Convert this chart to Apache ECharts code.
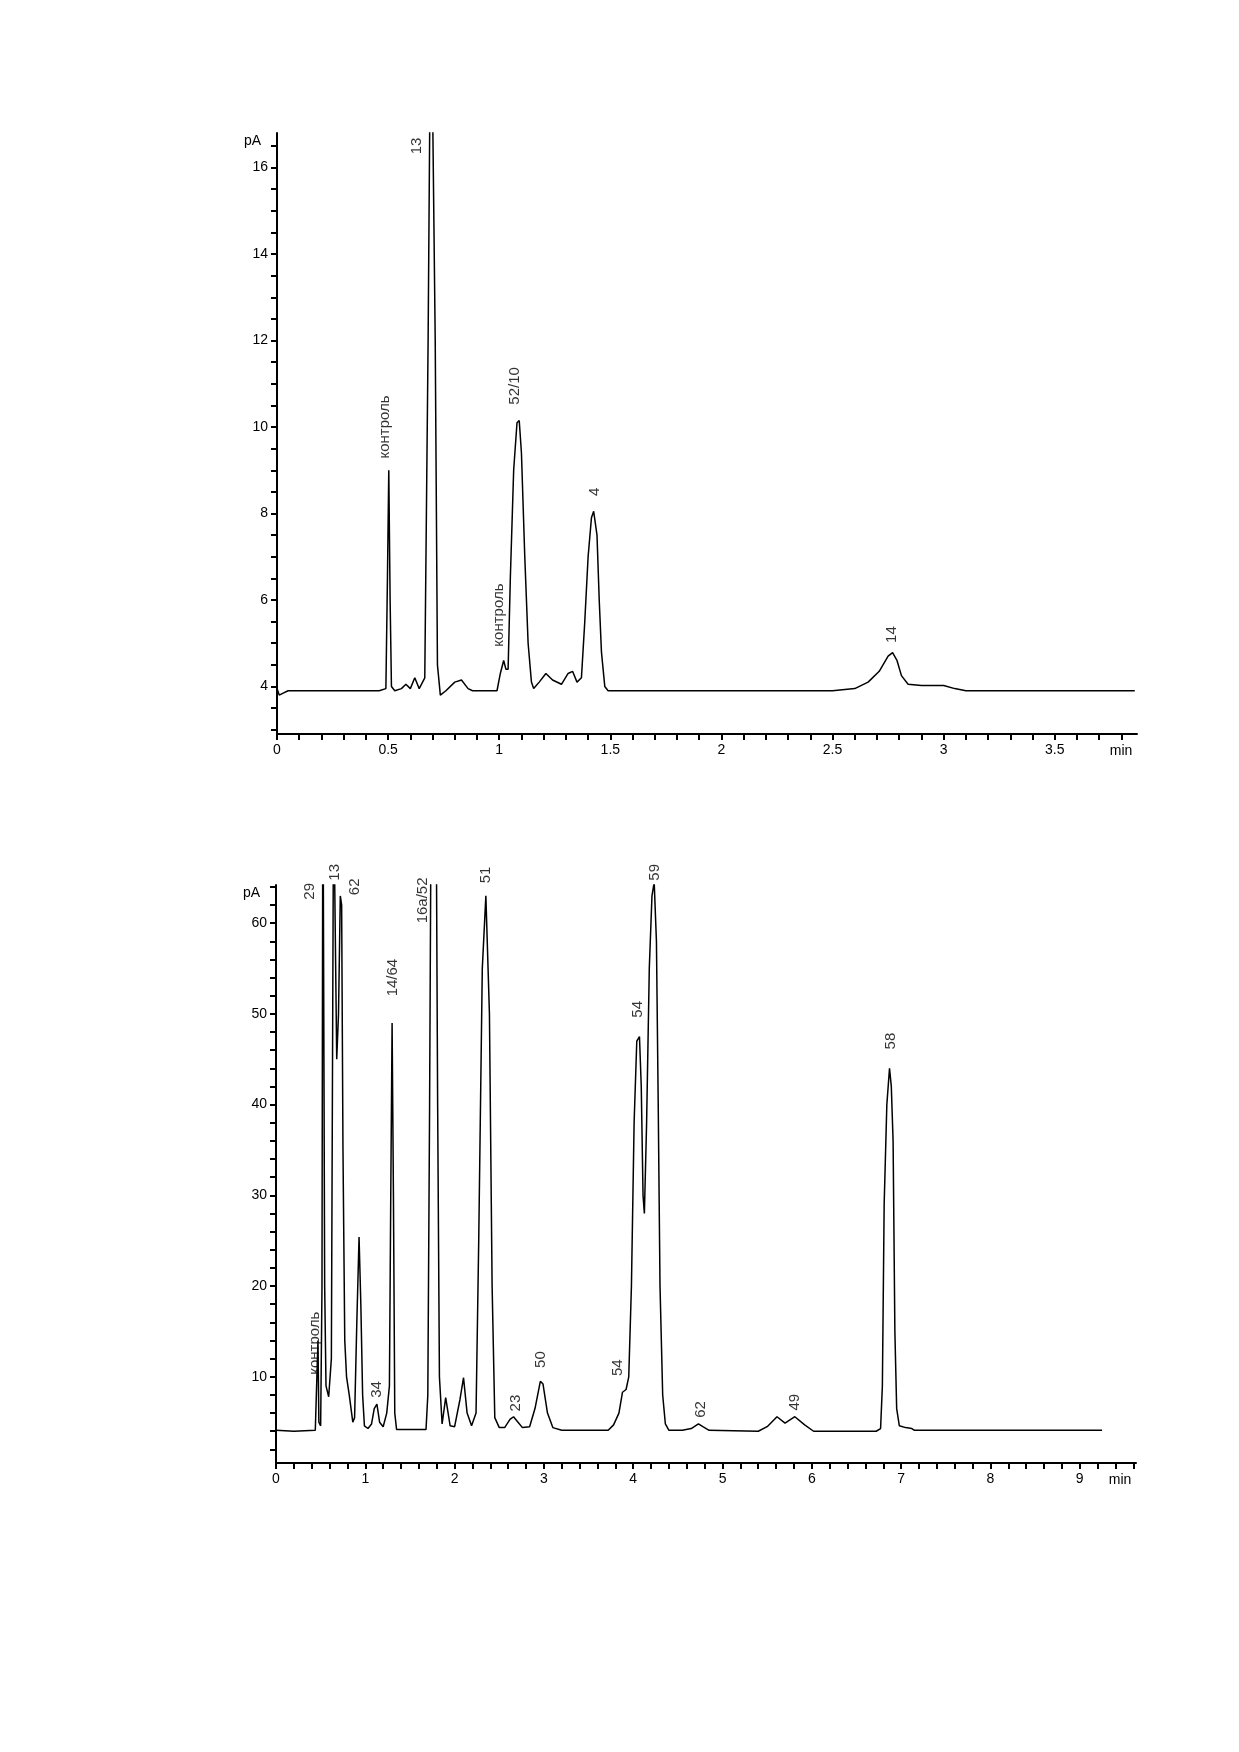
<!DOCTYPE html>
<html>
<head>
<meta charset="utf-8">
<script src="https://cdn.jsdelivr.net/npm/echarts@6/dist/echarts.min.js"></script>
<style>
html,body{margin:0;padding:0;background:#fff;}
#c{width:1239px;height:1752px;}
</style>
</head>
<body>
<div id="c"></div>
<script>
// ---- Top chromatogram (time, min ; signal, pA) ----
const topTime = [0,0.01,0.03,0.05,0.23,0.46,0.49,0.497,0.503,0.509,0.515,0.53,0.56,0.58,0.60,0.62,0.64,0.665,0.68,0.688,0.70,0.712,0.722,0.735,0.76,0.80,0.83,0.86,0.88,0.99,1.005,1.02,1.03,1.04,1.05,1.065,1.08,1.09,1.10,1.115,1.13,1.145,1.155,1.18,1.21,1.24,1.28,1.31,1.33,1.35,1.37,1.385,1.40,1.415,1.425,1.44,1.45,1.46,1.475,1.49,2.5,2.6,2.66,2.71,2.75,2.77,2.79,2.81,2.84,2.9,3.0,3.05,3.1,3.86];
const topSignal = [3.95,3.8,3.85,3.9,3.9,3.9,3.95,6.5,9.0,6.0,4.0,3.9,3.95,4.05,3.95,4.2,3.95,4.2,12,17.5,17.5,12,4.5,3.8,3.9,4.1,4.15,3.95,3.9,3.9,4.3,4.6,4.4,4.4,6.5,9.0,10.1,10.15,9.4,7.0,5.0,4.1,3.95,4.1,4.3,4.15,4.05,4.3,4.35,4.1,4.2,5.5,7.0,7.9,8.05,7.5,6.0,4.8,4.0,3.9,3.9,3.95,4.1,4.35,4.7,4.78,4.6,4.25,4.05,4.02,4.02,3.95,3.9,3.9];
const topLabelText = ['13','контроль','52/10','4','контроль','14'];
const topLabelTime = [0.63,0.485,1.07,1.43,1.0,2.765];
const topLabelSignal = [16.5,10.0,10.95,8.5,5.65,5.2];
const topXLabels = [0,0.5,1,1.5,2,2.5,3,3.5];
const topXTicks = [0,0.1,0.2,0.3,0.4,0.5,0.6,0.7,0.8,0.9,1,1.1,1.2,1.3,1.4,1.5,1.6,1.7,1.8,1.9,2,2.1,2.2,2.3,2.4,2.5,2.6,2.7,2.8,2.9,3,3.1,3.2,3.3,3.4,3.5,3.6,3.7,3.8];
const topYLabels = [4,6,8,10,12,14,16];
const topYTicks = [3,3.5,4,4.5,5,5.5,6,6.5,7,7.5,8,8.5,9,9.5,10,10.5,11,11.5,12,12.5,13,13.5,14,14.5,15,15.5,16,16.5];

// ---- Bottom chromatogram ----
const botTime = [0,0.2,0.44,0.46,0.47,0.48,0.50,0.515,0.525,0.535,0.545,0.56,0.59,0.62,0.645,0.665,0.68,0.70,0.72,0.735,0.75,0.77,0.79,0.82,0.86,0.88,0.905,0.93,0.95,0.97,0.99,1.03,1.07,1.10,1.13,1.16,1.2,1.24,1.27,1.285,1.30,1.315,1.33,1.35,1.68,1.70,1.72,1.74,1.79,1.81,1.83,1.86,1.90,1.95,2.0,2.06,2.10,2.14,2.19,2.24,2.27,2.31,2.35,2.39,2.42,2.45,2.5,2.56,2.62,2.66,2.71,2.76,2.84,2.90,2.96,2.99,3.04,3.10,3.2,3.72,3.78,3.84,3.88,3.92,3.95,3.98,4.01,4.04,4.07,4.09,4.11,4.125,4.15,4.18,4.21,4.235,4.26,4.28,4.30,4.33,4.36,4.40,4.55,4.65,4.73,4.78,4.85,5.4,5.5,5.61,5.70,5.81,5.92,6.02,6.72,6.77,6.79,6.81,6.84,6.87,6.89,6.91,6.93,6.95,6.98,7.05,7.12,7.15,9.25];
const botSignal = [4.1,4.0,4.1,4.3,14,5,4.6,20,80,80,20,9,7.8,12,75,75,45,50,63,62,35,14,10,8,5,5.5,16,25.4,18,8,4.6,4.3,4.8,6.5,7,5,4.5,6,9,30,49,30,6,4.2,4.2,8,40,80,80,40,10,4.8,7.7,4.6,4.5,7.5,9.9,6,4.6,6,25,55,63,50,20,5.5,4.4,4.4,5.3,5.6,5.0,4.4,4.5,6.5,9.5,9.2,6,4.4,4.1,4.1,4.7,6,8.3,8.6,10,20,38,47,47.5,42,30,28,38,55,63,64.5,58,40,20,8,4.8,4.1,4.1,4.3,4.8,4.5,4.1,4.0,4.5,5.6,4.9,5.6,4.7,4.0,4.0,4.3,9,29,40,44,42,36,15,6.5,4.6,4.4,4.3,4.1,4.1];
const botLabelText = ['29','13','62','14/64','16a/52','51','54','59','58','контроль','34','23','50','54','62','49'];
const botLabelTime = [0.38,0.66,0.88,1.31,1.64,2.35,4.05,4.24,6.88,0.43,1.13,2.69,2.97,3.83,4.76,5.81];
const botLabelSignal = [63.5,65.6,64,54,62.5,65.3,50.5,65.6,47,13.7,8.6,7.1,11.9,11,6.4,7.2];
const botXLabels = [0,1,2,3,4,5,6,7,8,9];
const botXTicks = [0,0.2,0.4,0.6,0.8,1,1.2,1.4,1.6,1.8,2,2.2,2.4,2.6,2.8,3,3.2,3.4,3.6,3.8,4,4.2,4.4,4.6,4.8,5,5.2,5.4,5.6,5.8,6,6.2,6.4,6.6,6.8,7,7.2,7.4,7.6,7.8,8,8.2,8.4,8.6,8.8,9,9.2,9.4,9.6];
const botYLabels = [10,20,30,40,50,60];
const botYTicks = [2,4,6,8,10,12,14,16,18,20,22,24,26,28,30,32,34,36,38,40,42,44,46,48,50,52,54,56,58,60,62,64];

function zip(a,b){const n=Math.min(a.length,b.length);const r=[];for(let i=0;i<n;i++)r.push([a[i],b[i]]);return r;}
function labelData(t,v,txt){return t.map((x,i)=>({value:[x,v[i]],name:txt[i]}));}

const FONT = '"Liberation Sans Narrow","Liberation Sans",Arial,sans-serif';
const axisCommon = {
  axisLine:{show:true,onZero:false,lineStyle:{color:'#000',width:2}},
  splitLine:{show:false},
  minorTick:{show:false}
};
function xAx(gi,min,max,labels,ticks,fmt){
  return Object.assign({}, axisCommon, {
    type:'value', gridIndex:gi, min:min, max:max,
    name:'min', nameLocation:'end', nameGap:-16,
    nameTextStyle:{color:'#000',fontFamily:FONT,fontSize:14,align:'center',verticalAlign:'top',padding:[10,0,0,0]},
    axisTick:{show:true,inside:false,length:6,lineStyle:{color:'#000',width:2},customValues:ticks},
    axisLabel:{color:'#000',fontFamily:FONT,fontSize:14,margin:9,customValues:labels,formatter:fmt}
  });
}
function yAx(gi,min,max,labels,ticks){
  return Object.assign({}, axisCommon, {
    type:'value', gridIndex:gi, min:min, max:max,
    name:'pA', nameLocation:'end', nameGap:-8,
    nameTextStyle:{color:'#000',fontFamily:FONT,fontSize:14,align:'right',verticalAlign:'middle',padding:[0,16,0,0]},
    axisTick:{show:true,inside:false,length:6,lineStyle:{color:'#000',width:2},customValues:ticks},
    axisLabel:{color:'#000',fontFamily:FONT,fontSize:14,margin:9,customValues:labels}
  });
}
const lineStyle = {color:'#000',width:1.5};
const labelSeries = (xi,yi,data)=>({
  type:'scatter', xAxisIndex:xi, yAxisIndex:yi, data:data, symbolSize:1, clip:false,
  itemStyle:{color:'rgba(0,0,0,0)'}, silent:true, animation:false,
  label:{show:true,position:'inside',rotate:90,color:'#000',fontFamily:FONT,fontSize:15,formatter:p=>p.name}
});

const option = {
  animation:false,
  backgroundColor:'#fff',
  grid:[
    {left:277, right:102, top:133, bottom:1018, containLabel:false},
    {left:276, right:103, top:885, bottom:289, containLabel:false}
  ],
  xAxis:[
    xAx(0,0,3.87,topXLabels,topXTicks,v=>String(v)),
    xAx(1,0,9.63,botXLabels,botXTicks,v=>String(v))
  ],
  yAxis:[
    yAx(0,2.9,16.8,topYLabels,topYTicks),
    yAx(1,0.5,64.2,botYLabels,botYTicks)
  ],
  series:[
    {type:'line', xAxisIndex:0, yAxisIndex:0, data:zip(topTime,topSignal), showSymbol:false, symbol:'none', lineStyle:lineStyle, clip:true},
    {type:'line', xAxisIndex:1, yAxisIndex:1, data:zip(botTime,botSignal), showSymbol:false, symbol:'none', lineStyle:lineStyle, clip:true},
    labelSeries(0,0,labelData(topLabelTime,topLabelSignal,topLabelText)),
    labelSeries(1,1,labelData(botLabelTime,botLabelSignal,botLabelText))
  ]
};
const chart = echarts.init(document.getElementById('c'), null, {renderer:'canvas'});
chart.setOption(option);
</script>
</body>
</html>
